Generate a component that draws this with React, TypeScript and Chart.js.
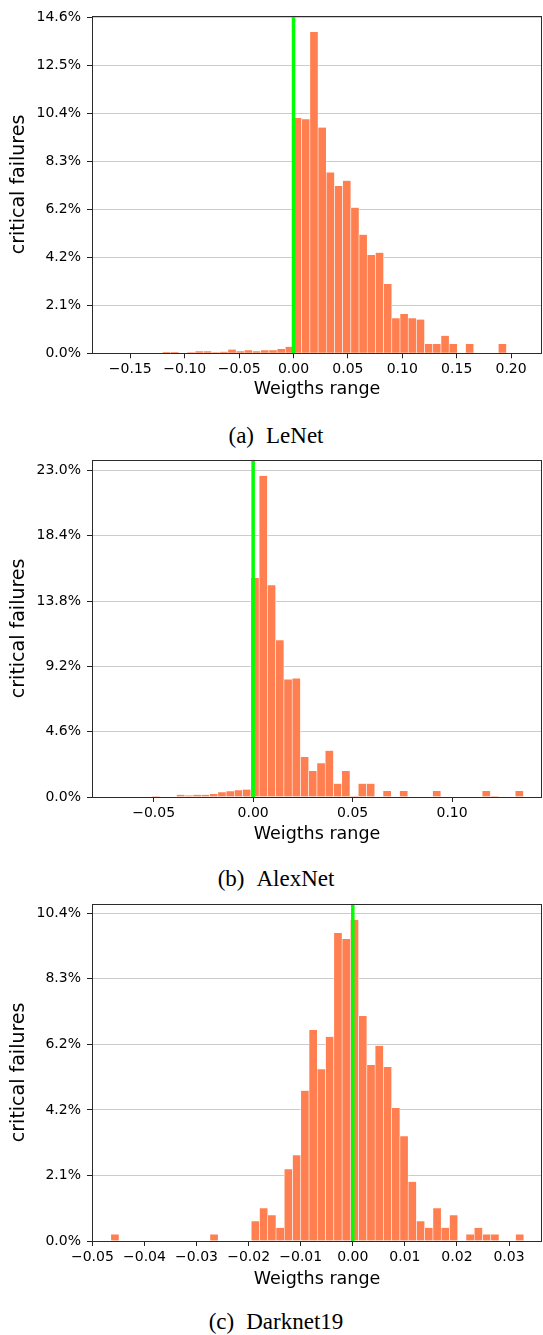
import React, { useEffect, useRef } from "react";
import { Chart, registerables } from "chart.js";

Chart.register(...registerables);

// ---------- (a) LeNet ----------
const lenetBinStart = -0.12048; // left edge of the first histogram bin
const lenetBinWidth = 0.00753;
const lenetValues = [
  0.058, 0.058, 0, 0.043, 0.087, 0.087, 0.043, 0.072, 0.16, 0.087, 0.13, 0.087, 0.13, 0.13, 0.19, 0.28,
  10.2, 10.14, 13.92, 9.78, 7.84, 7.25, 7.48, 6.31, 5.14, 4.26, 4.36, 3.0, 1.52, 1.7, 1.52, 1.46,
  0.4, 0.4, 0.76, 0.4, 0, 0.4, 0, 0, 0, 0.4,
];
const lenetXTicks = [-0.15, -0.1, -0.05, 0, 0.05, 0.1, 0.15, 0.2];
const lenetXLabels = ["\u22120.15", "\u22120.10", "\u22120.05", "0.00", "0.05", "0.10", "0.15", "0.20"];
const lenetYTicks = [0, 2.08, 4.16, 6.24, 8.32, 10.4, 12.48, 14.56];
const lenetYLabels = ["0.0%", "2.1%", "4.2%", "6.2%", "8.3%", "10.4%", "12.5%", "14.6%"];
const lenetXRange = [-0.1852, 0.2284];
const lenetYMax = 14.63;

// ---------- (b) AlexNet ----------
const alexBinStart = -0.05096;
const alexBinWidth = 0.004152;
const alexValues = [
  0.07, 0, 0, 0.15, 0.11, 0.15, 0.15, 0.21, 0.33, 0.4, 0.47, 0.52,
  15.42, 22.62, 14.91, 11.04, 8.28, 8.35, 2.81, 1.83, 2.37, 3.26, 0.94, 1.83, 0.07, 0.94, 0.94,
  0, 0.42, 0, 0.42, 0, 0, 0, 0.42, 0, 0, 0, 0, 0, 0.42, 0.07, 0, 0, 0.42,
];
const alexXTicks = [-0.05, 0, 0.05, 0.1];
const alexXLabels = ["\u22120.05", "0.00", "0.05", "0.10"];
const alexYTicks = [0, 4.6, 9.2, 13.8, 18.4, 23.0];
const alexYLabels = ["0.0%", "4.6%", "9.2%", "13.8%", "18.4%", "23.0%"];
const alexXRange = [-0.081, 0.1452];
const alexYMax = 23.75;

// ---------- (c) Darknet19 ----------
const darkBinStart = -0.04646;
const darkBinWidth = 0.001586;
const darkValues = [
  0.21, 0, 0, 0, 0, 0, 0, 0, 0, 0, 0, 0, 0.21, 0, 0, 0, 0,
  0.63, 1.04, 0.82, 0.42, 2.28, 2.72, 4.77, 6.69, 5.45, 6.48, 9.77, 9.58, 10.19, 7.14, 5.58, 6.19,
  5.52, 4.22, 3.32, 1.88, 0.63, 0.42, 1.04, 0.42, 0.82, 0, 0.21, 0.42, 0.21, 0.21, 0, 0, 0.21,
];
const darkXTicks = [-0.05, -0.04, -0.03, -0.02, -0.01, 0, 0.01, 0.02, 0.03];
const darkXLabels = ["\u22120.05", "\u22120.04", "\u22120.03", "\u22120.02", "\u22120.01", "0.00", "0.01", "0.02", "0.03"];
const darkYTicks = [0, 2.08, 4.16, 6.24, 8.32, 10.4];
const darkYLabels = ["0.0%", "2.1%", "4.2%", "6.2%", "8.3%", "10.4%"];
const darkXRange = [-0.05007, 0.03633];
const darkYMax = 10.7;

const xTitle = "Weigths range";
const yTitle = "critical failures";

type Spec = {
  binStart: number;
  binWidth: number;
  values: number[];
  xTicks: number[];
  xLabels: string[];
  yTicks: number[];
  yLabels: string[];
  xRange: number[];
  yMax: number;
  caption: [string, string];
};

type Layout = {
  top: number;
  padTop: number;
  axisBottom: number;
  titleMid: number;
  captionMid: number;
};

const specs: Spec[] = [
  { binStart: lenetBinStart, binWidth: lenetBinWidth, values: lenetValues, xTicks: lenetXTicks, xLabels: lenetXLabels, yTicks: lenetYTicks, yLabels: lenetYLabels, xRange: lenetXRange, yMax: lenetYMax, caption: ["(a)", "LeNet"] },
  { binStart: alexBinStart, binWidth: alexBinWidth, values: alexValues, xTicks: alexXTicks, xLabels: alexXLabels, yTicks: alexYTicks, yLabels: alexYLabels, xRange: alexXRange, yMax: alexYMax, caption: ["(b)", "AlexNet"] },
  { binStart: darkBinStart, binWidth: darkBinWidth, values: darkValues, xTicks: darkXTicks, xLabels: darkXLabels, yTicks: darkYTicks, yLabels: darkYLabels, xRange: darkXRange, yMax: darkYMax, caption: ["(c)", "Darknet19"] },
];

const layouts: Layout[] = [
  { top: 0, padTop: 15.7, axisBottom: 353.3, titleMid: 389.5, captionMid: 438 },
  { top: 445, padTop: 14.7, axisBottom: 797, titleMid: 834.5, captionMid: 881 },
  { top: 889, padTop: 14.7, axisBottom: 1241, titleMid: 1279.5, captionMid: 1324 },
];

const W = 543;
const H = 412;
const AXIS_LEFT = 92;
const SANS = "'DejaVu Sans', sans-serif";
const TICK_SIZE = 14;
const XTITLE_SIZE = 17.5;
const YTITLE_SIZE = 19;

const framePlugin = {
  id: "frame",
  afterDatasetsDraw(chart: any) {
    const { ctx, chartArea } = chart;
    const l = Math.round(chartArea.left) + 0.5;
    const t = Math.round(chartArea.top) + 0.5;
    const r = Math.round(chartArea.right) - 0.5;
    const b = Math.round(chartArea.bottom) + 0.5;
    ctx.save();
    ctx.strokeStyle = "#2b2b2b";
    ctx.lineWidth = 1;
    ctx.strokeRect(l, t, r - l, b - t);
    ctx.restore();
  },
};

function Histogram({ spec, layout }: { spec: Spec; layout: Layout }) {
  const ref = useRef<HTMLCanvasElement>(null);
  useEffect(() => {
    const canvas = ref.current;
    if (!canvas) return;
    const bars = spec.values.map((v, i) => ({ x: spec.binStart + (i + 0.5) * spec.binWidth, y: v }));
    const xAxisHeight = layout.top + H - layout.axisBottom;
    const xTitlePadBottom = layout.top + H - layout.titleMid - (XTITLE_SIZE * 1.2) / 2;
    const chart = new Chart(canvas, {
      type: "bar",
      data: {
        datasets: [
          {
            type: "line",
            data: [
              { x: 0, y: 0 },
              { x: 0, y: spec.yMax },
            ],
            borderColor: "#00ff00",
            borderWidth: 3.5,
            pointRadius: 0,
            borderCapStyle: "butt",
            order: 0,
          } as any,
          {
            type: "bar",
            data: bars,
            backgroundColor: "#ff7f50",
            borderColor: "#ffffff",
            borderWidth: { left: 0.6, right: 0.6, top: 0, bottom: 0 },
            barPercentage: 1,
            categoryPercentage: 1,
            order: 1,
          } as any,
        ],
      },
      options: {
        animation: false,
        responsive: false,
        maintainAspectRatio: false,
        events: [],
        layout: { padding: { top: layout.padTop, left: 0, right: 1, bottom: 0 } },
        plugins: { legend: { display: false }, tooltip: { enabled: false } },
        scales: {
          x: {
            type: "linear",
            min: spec.xRange[0],
            max: spec.xRange[1],
            offset: false,
            afterBuildTicks: (s: any) => {
              s.ticks = spec.xTicks.map((v) => ({ value: v }));
            },
            afterFit: (s: any) => {
              s.height = xAxisHeight;
            },
            ticks: {
              autoSkip: false,
              maxRotation: 0,
              minRotation: 0,
              padding: 3,
              color: "#000",
              font: { family: SANS, size: TICK_SIZE },
              callback: (_v: any, i: number) => spec.xLabels[i],
            },
            grid: { drawOnChartArea: false, drawTicks: true, tickLength: 5, tickColor: "#222", offset: false },
            border: { display: false },
            title: {
              display: true,
              text: xTitle,
              color: "#000",
              font: { family: SANS, size: XTITLE_SIZE },
              padding: { top: 0, bottom: xTitlePadBottom },
            },
          } as any,
          y: {
            type: "linear",
            min: 0,
            max: spec.yMax,
            afterBuildTicks: (s: any) => {
              s.ticks = spec.yTicks.map((v) => ({ value: v }));
            },
            afterFit: (s: any) => {
              s.width = AXIS_LEFT;
            },
            ticks: {
              padding: 6,
              color: "#000",
              font: { family: SANS, size: TICK_SIZE },
              callback: (_v: any, i: number) => spec.yLabels[i],
            },
            grid: { color: "#cccccc", lineWidth: 1, drawTicks: true, tickLength: 5, tickColor: "#222" },
            border: { display: false },
            title: {
              display: true,
              text: yTitle,
              color: "#000",
              font: { family: SANS, size: YTITLE_SIZE },
              padding: { top: 8, bottom: 0 },
            },
          } as any,
        },
      },
      plugins: [framePlugin],
    } as any);
    return () => chart.destroy();
  }, [spec, layout]);

  return (
    <>
      <canvas
        ref={ref}
        width={W}
        height={H}
        style={{ position: "absolute", left: 0, top: layout.top, width: W, height: H }}
      />
      <div
        style={{
          position: "absolute",
          left: 0,
          width: 552,
          top: layout.captionMid - 14,
          textAlign: "center",
          fontFamily: "'Liberation Serif', 'Times New Roman', serif",
          fontSize: 23,
          lineHeight: "23px",
          color: "#000",
          whiteSpace: "pre",
        }}
      >
        <span>{spec.caption[0]}</span>
        <span style={{ display: "inline-block", width: 12 }} />
        <span>{spec.caption[1]}</span>
      </div>
    </>
  );
}

export default function App() {
  return (
    <div style={{ position: "absolute", left: 0, top: 0, width: W, height: 1335, background: "#fff", overflow: "hidden" }}>
      {specs.map((s, i) => (
        <Histogram key={i} spec={s} layout={layouts[i]} />
      ))}
    </div>
  );
}
